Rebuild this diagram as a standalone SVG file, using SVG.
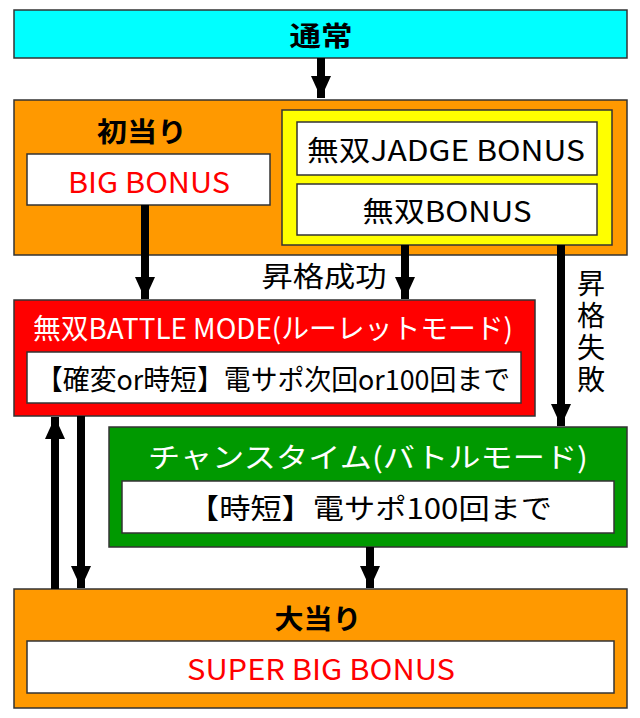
<svg xmlns="http://www.w3.org/2000/svg" width="640" height="718" viewBox="0 0 640 718">
<style>
.b{stroke:#333;stroke-width:1.5}
.w{fill:#fff;stroke:#333;stroke-width:1.5}
text{font-family:"Noto Sans CJK JP","Noto Sans",sans-serif;text-anchor:middle;dominant-baseline:central}
.t{font-size:27px;font-weight:bold;fill:#000}
.n{font-size:28px;fill:#000}
.r{font-size:29px;fill:#f00}
.c{stroke:#000;stroke-width:8;fill:none}
</style>
<defs><marker id="a" markerUnits="userSpaceOnUse" markerWidth="24" markerHeight="20" refX="22" refY="10" orient="auto"><path d="M0,0L22,10L0,20Z" fill="#000"/></marker></defs>
<rect width="640" height="718" fill="#fff"/>
<g id="tsujo"><rect class="b" x="14" y="10" width="613" height="48" fill="#00ffff"/><text class="t" x="321" y="34" textLength="63" lengthAdjust="spacingAndGlyphs">通常</text></g>
<g id="hatsuatari"><rect class="b" x="14" y="100" width="613" height="155" fill="#ff9900"/><text class="t" x="142" y="130" textLength="90" lengthAdjust="spacingAndGlyphs">初当り</text>
<rect class="w" x="27" y="154" width="243" height="51"/><text class="r" x="149" y="180" textLength="162" lengthAdjust="spacingAndGlyphs">BIG BONUS</text>
<rect class="b" x="282" y="110" width="330" height="135" fill="#ffff00"/>
<rect class="w" x="297" y="122" width="300" height="53"/><text class="n" x="446" y="149" textLength="278" lengthAdjust="spacingAndGlyphs">無双JADGE BONUS</text>
<rect class="w" x="297" y="184" width="300" height="51"/><text class="n" x="447" y="210" textLength="169" lengthAdjust="spacingAndGlyphs">無双BONUS</text></g>
<g id="battle"><rect class="b" x="14" y="300" width="521" height="116" fill="#ff0000"/><text class="n" x="273" y="327" style="fill:#fff" textLength="480" lengthAdjust="spacingAndGlyphs">無双BATTLE MODE(ルーレットモード)</text>
<rect class="w" x="27" y="352" width="494" height="51"/><text class="n" x="273" y="378" textLength="474" lengthAdjust="spacingAndGlyphs">【確変or時短】電サポ次回or100回まで</text></g>
<g id="chance"><rect class="b" x="109" y="427" width="518" height="120" fill="#009900"/><text class="n" x="368" y="456" style="fill:#fff" textLength="440" lengthAdjust="spacingAndGlyphs">チャンスタイム(バトルモード)</text>
<rect class="w" x="122" y="481" width="492" height="52"/><text class="n" x="370" y="507" textLength="364" lengthAdjust="spacingAndGlyphs">【時短】電サポ100回まで</text></g>
<g id="ooatari"><rect class="b" x="14" y="589" width="613" height="119" fill="#ff9900"/><text class="t" x="318" y="617" textLength="87" lengthAdjust="spacingAndGlyphs">大当り</text>
<rect class="w" x="27" y="641" width="587" height="52"/><text class="r" x="321" y="667" textLength="268" lengthAdjust="spacingAndGlyphs">SUPER BIG BONUS</text></g>
<g id="connectors">
<line class="c" x1="321" y1="58" x2="321" y2="98" marker-end="url(#a)"/>
<line class="c" x1="145" y1="205" x2="145" y2="299" marker-end="url(#a)"/>
<line class="c" x1="405" y1="245" x2="405" y2="299" marker-end="url(#a)"/>
<line class="c" x1="561" y1="245" x2="561" y2="426" marker-end="url(#a)"/>
<line class="c" x1="55" y1="589" x2="55" y2="417" marker-end="url(#a)"/>
<line class="c" x1="81" y1="416" x2="81" y2="588" marker-end="url(#a)"/>
<line class="c" x1="370" y1="547" x2="370" y2="588" marker-end="url(#a)"/>
<text class="n" x="324" y="275" textLength="125" lengthAdjust="spacingAndGlyphs">昇格成功</text>
<text class="n" x="591" y="333" style="writing-mode:vertical-rl;text-orientation:upright;letter-spacing:4px" textLength="128">昇格失敗</text>
</g>
</svg>
